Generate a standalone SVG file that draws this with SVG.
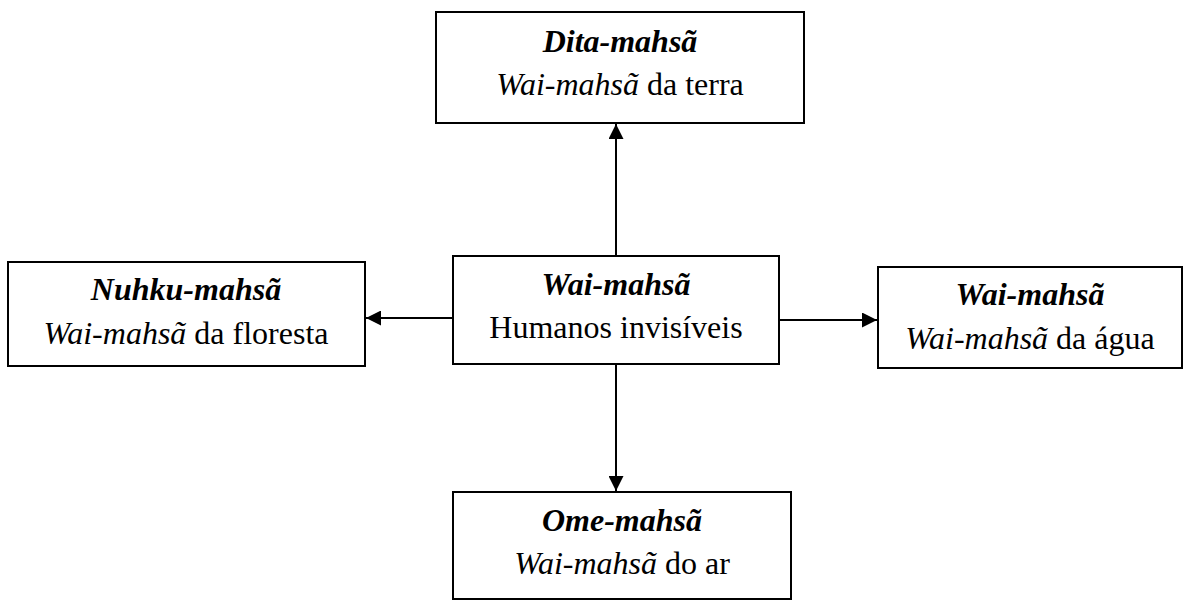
<svg xmlns="http://www.w3.org/2000/svg" width="1184" height="602" viewBox="0 0 1184 602">
<style>
.box{fill:#fff;stroke:#000;stroke-width:2}
text{font-family:"Liberation Serif","Times New Roman",serif;font-size:32px;fill:#000;text-anchor:middle}
.t{font-weight:bold;font-style:italic}
.i{font-style:italic}
.c{stroke:#000;stroke-width:2;fill:none}
</style>
<defs>
<marker id="ah" viewBox="0 0 10 10" refX="10" refY="5" markerWidth="15" markerHeight="15" markerUnits="userSpaceOnUse" orient="auto">
<path d="M0,0 L10,5 L0,10 z" fill="#000"/>
</marker>
</defs>
<rect width="1184" height="602" fill="#fff"/>
<g id="connectors">
<line class="c" x1="616" y1="256" x2="616" y2="124" marker-end="url(#ah)"/>
<line class="c" x1="616" y1="364" x2="616" y2="491" marker-end="url(#ah)"/>
<line class="c" x1="453" y1="318" x2="366" y2="318" marker-end="url(#ah)"/>
<line class="c" x1="779" y1="320" x2="877" y2="320" marker-end="url(#ah)"/>
</g>
<g id="top">
<rect class="box" x="436" y="12" width="368" height="111"/>
<text x="620" y="52" class="t">Dita-mahsã</text>
<text x="620" y="95"><tspan class="i">Wai-mahsã</tspan> da terra</text>
</g>
<g id="center">
<rect class="box" x="453" y="256" width="326" height="108"/>
<text x="616" y="295" class="t">Wai-mahsã</text>
<text x="616" y="338">Humanos invisíveis</text>
</g>
<g id="left">
<rect class="box" x="8" y="262" width="357" height="104"/>
<text x="186" y="300" class="t">Nuhku-mahsã</text>
<text x="186" y="344"><tspan class="i">Wai-mahsã</tspan> da floresta</text>
</g>
<g id="right">
<rect class="box" x="878" y="267" width="304" height="101"/>
<text x="1030" y="305" class="t">Wai-mahsã</text>
<text x="1030" y="349"><tspan class="i">Wai-mahsã</tspan> da água</text>
</g>
<g id="bottom">
<rect class="box" x="453" y="492" width="338" height="107"/>
<text x="622" y="531" class="t">Ome-mahsã</text>
<text x="622" y="574"><tspan class="i">Wai-mahsã</tspan> do ar</text>
</g>
</svg>
